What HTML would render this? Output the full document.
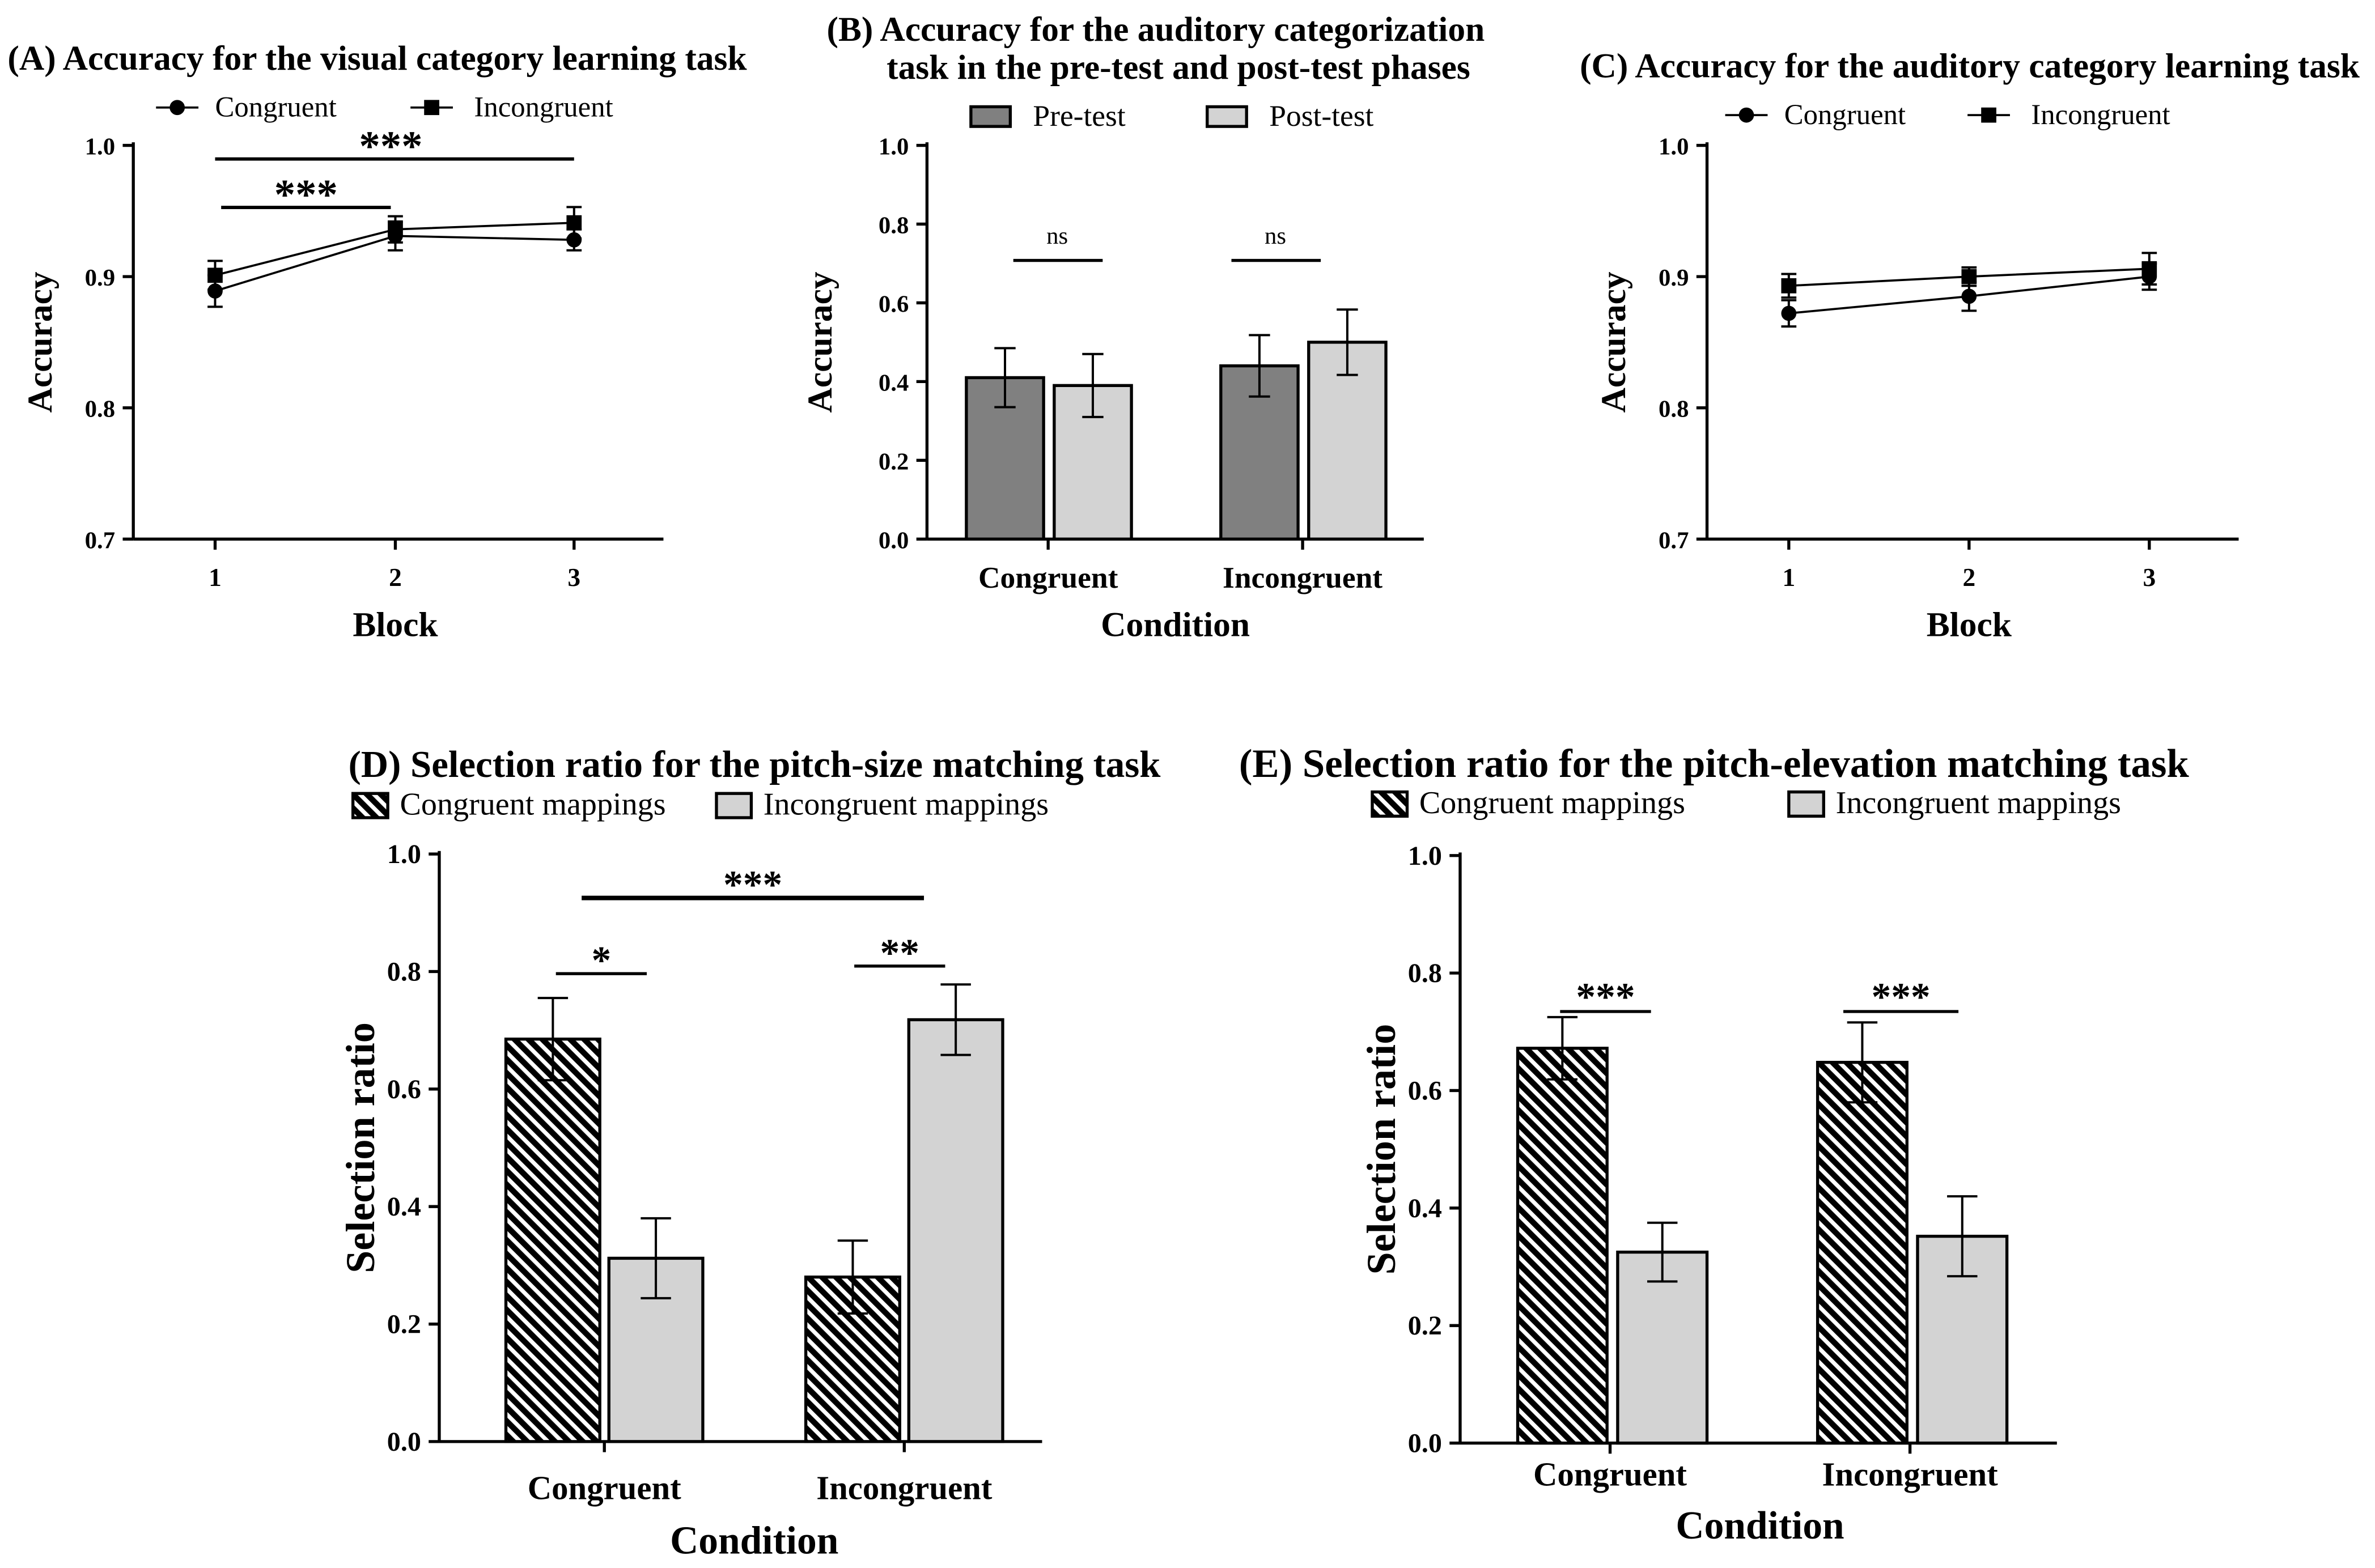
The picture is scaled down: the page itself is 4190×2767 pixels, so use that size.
<!DOCTYPE html>
<html><head><meta charset="utf-8"><style>
html,body{margin:0;padding:0;background:#fff;}
svg{display:block;font-family:"Liberation Serif",serif;}
</style></head><body>
<svg id="fig" width="4190" height="2767" viewBox="0 0 1568 1035.5" xmlns="http://www.w3.org/2000/svg">
<defs>
<pattern id="hatch" patternUnits="userSpaceOnUse" width="6.5" height="6.5" patternTransform="rotate(-45)">
<rect x="0" y="0" width="6.5" height="6.5" fill="#fff"/>
<rect x="0" y="0" width="3.8" height="6.5" fill="#000"/>
</pattern>
</defs>
</svg>
<script>
// ---- Data ----
const blockCats = ["1","2","3"];
const aCong = [0.889, 0.931, 0.928];
const aCongErr = [0.012, 0.011, 0.008];
const aInc = [0.901, 0.936, 0.941];
const aIncErr = [0.011, 0.010, 0.012];
const cCong = [0.872, 0.885, 0.900];
const cCongErr = [0.010, 0.011, 0.010];
const cInc = [0.893, 0.900, 0.906];
const cIncErr = [0.009, 0.007, 0.012];
const accTicks = [0.7, 0.8, 0.9, 1.0];
const condCats = ["Congruent","Incongruent"];
const bPre = [0.41, 0.44];
const bPreErr = [0.075, 0.078];
const bPost = [0.39, 0.50];
const bPostErr = [0.08, 0.083];
const propTicks = [0.0, 0.2, 0.4, 0.6, 0.8, 1.0];
const dCongMap = [0.685, 0.28];
const dCongMapErr = [0.07, 0.062];
const dIncMap = [0.312, 0.718];
const dIncMapErr = [0.068, 0.06];
const eCongMap = [0.672, 0.648];
const eCongMapErr = [0.053, 0.068];
const eIncMap = [0.325, 0.352];
const eIncMapErr = [0.05, 0.068];

const NS = "http://www.w3.org/2000/svg";
const svg = document.getElementById('fig');
function mk(tag, attrs, parent){ const e=document.createElementNS(NS,tag); for(const k in attrs) e.setAttribute(k,attrs[k]); (parent||svg).appendChild(e); return e; }
function txt(s, x, y, size, weight, anchor, name, rot){
  const t = mk('text',{x:x,y:y,'font-size':size,'font-weight':weight,'text-anchor':anchor||'start'});
  if(rot) t.setAttribute('transform',`rotate(-90 ${x} ${y})`);
  t.textContent = s;
  
  
  return t;
}
function line(x1,y1,x2,y2,w,name){
  const l = mk('line',{x1:x1,y1:y1,x2:x2,y2:y2,stroke:'#000','stroke-width':w||1.6});
  
  
  return l;
}
function errbar(x,yv,ye,yc,hw,name){
  line(x, yv(ye[0]), x, yv(ye[1]), 1.5, name);
  line(x-hw, yv(ye[1]), x+hw, yv(ye[1]), 1.5, name+'-cap-top');
  line(x-hw, yv(ye[0]), x+hw, yv(ye[0]), 1.5, name+'-cap-bottom');
}

// ---- Line panel (A, C) ----
function linePanel(p){
  const y = v => p.y0 + (v-0.7)/(0.3)*(p.y1-p.y0);
  const x = i => p.xs[i];
  line(p.ax, p.y1-2, p.ax, p.y0, 2, p.id+'-y-axis');
  line(p.ax, p.y0, p.axEnd, p.y0, 2, p.id+'-x-axis');
  accTicks.forEach(t=>{
    line(p.ax-7, y(t), p.ax, y(t), 2, p.id+'-y-tick');
    txt(t.toFixed(1), p.ax-12, y(t)+6, 16, 'bold', 'end', p.id+'-y-tick-label');
  });
  blockCats.forEach((c,i)=>{
    line(x(i), p.y0, x(i), p.y0+7, 2, p.id+'-x-tick');
    txt(c, x(i), p.y0+31, 17, 'bold', 'middle', p.id+'-x-tick-label');
  });
  txt('Accuracy', p.ax-54, (p.y0+p.y1)/2, 23, 'bold', 'middle', p.id+'-y-axis-title', true);
  txt('Block', p.xs[1], p.y0+64, 23, 'bold', 'middle', p.id+'-x-axis-title');
  [[p.cong,p.congErr,'circle','congruent'],[p.inc,p.incErr,'square','incongruent']].forEach(([vals,errs,shape,nm])=>{
    const pts = vals.map((v,i)=>`${x(i)},${y(v)}`).join(' ');
    const pl = mk('polyline',{points:pts,fill:'none',stroke:'#000','stroke-width':1.4});
    
    
    vals.forEach((v,i)=>{
      errbar(x(i), y, [v-errs[i], v+errs[i]], 0, 5, p.id+'-'+nm+'-error-bar');
      let m;
      if(shape==='circle') m = mk('circle',{cx:x(i),cy:y(v),r:5,fill:'#000'});
      else m = mk('rect',{x:x(i)-5,y:y(v)-5,width:10,height:10,fill:'#000'});
      
      
    });
  });
  const ly = p.legY;
  line(p.leg1-14, ly, p.leg1+14, ly, 1.4, p.id+'-legend-congruent-line');
  const lc = mk('circle',{cx:p.leg1,cy:ly,r:5,fill:'#000'});
  
  
  txt('Congruent', p.leg1+25, ly+6, 19, 'normal', 'start', p.id+'-legend-congruent');
  line(p.leg2-14, ly, p.leg2+14, ly, 1.4, p.id+'-legend-incongruent-line');
  const ls = mk('rect',{x:p.leg2-5,y:ly-5,width:10,height:10,fill:'#000'});
  
  
  txt('Incongruent', p.leg2+28, ly+6, 19, 'normal', 'start', p.id+'-legend-incongruent');
}

linePanel({id:'panel-a', ax:88, axEnd:438, y0:356, y1:96, xs:[142,261,379], cong:aCong, congErr:aCongErr, inc:aInc, incErr:aIncErr, legY:71, leg1:117, leg2:285});
txt('(A)  Accuracy for the visual category learning task', 5, 46, 23, 'bold', 'start', 'panel-a-title');
line(142,105,379,105,2.2,'panel-a-sig-line-1-3');
txt('***', 258, 106, 28, 'bold', 'middle', 'panel-a-sig-label-1-3');
line(146,137,258,137,2.2,'panel-a-sig-line-1-2');
txt('***', 202, 138, 28, 'bold', 'middle', 'panel-a-sig-label-1-2');

linePanel({id:'panel-c', ax:1127, axEnd:1478, y0:356, y1:96, xs:[1181,1300,1419], cong:cCong, congErr:cCongErr, inc:cInc, incErr:cIncErr, legY:76, leg1:1153, leg2:1313});
txt('(C) Accuracy for the auditory category learning task', 1043, 51, 23, 'bold', 'start', 'panel-c-title');

// ---- Bar panels ----
function barPanel(p){
  const y = v => p.y0 - v*(p.y0-p.y1);
  line(p.ax, p.y1-2, p.ax, p.y0, 2, p.id+'-y-axis');
  line(p.ax, p.y0, p.axEnd, p.y0, 2, p.id+'-x-axis');
  propTicks.forEach(t=>{
    line(p.ax-7, y(t), p.ax, y(t), 2, p.id+'-y-tick');
    txt(t.toFixed(1), p.ax-12, y(t)+6, p.tickSize, 'bold', 'end', p.id+'-y-tick-label');
  });
  condCats.forEach((c,g)=>{
    const cx = p.groupX[g];
    line(cx, p.y0, cx, p.y0+7, 2, p.id+'-x-tick');
    txt(c, cx, p.y0+p.catDy, p.catSize, 'bold', 'middle', p.id+'-x-tick-label');
    p.series.forEach((s,k)=>{
      const x0 = cx + p.offsets[k];
      const r = mk('rect',{x:x0, y:y(s.vals[g]), width:p.bw, height:y(0)-y(s.vals[g]), fill:s.fill, stroke:'#000','stroke-width':2});
      
      
      const xc = x0 + p.bw/2;
      errbar(xc, y, [s.vals[g]-s.errs[g], s.vals[g]+s.errs[g]], 0, p.cap, p.id+'-error-bar');
    });
  });
  txt(p.yTitle, p.yTitleX, (p.y0+p.y1)/2, p.yTitleSize, 'bold', 'middle', p.id+'-y-axis-title', true);
  txt('Condition', p.condX, p.condY, p.titleSize, 'bold', 'middle', p.id+'-x-axis-title');
  p.series.forEach((s,k)=>{
    const r = mk('rect',{x:p.legX[k], y:p.legY-p.legH/2, width:p.legW, height:p.legH, fill:s.fill, stroke:'#000','stroke-width':2});
    
    
    txt(s.label, p.legX[k]+p.legW+p.legGap, p.legY+6, p.legSize, 'normal', 'start', p.id+'-legend-'+s.name);
  });
}

barPanel({id:'panel-b', ax:612, axEnd:940, y0:356, y1:96, groupX:[692,860], offsets:[-54,4], bw:51, cap:7, tickSize:16, catSize:20, catDy:32, titleSize:23, yTitleSize:23,
  series:[{name:'pre-test',label:'Pre-test',vals:bPre,errs:bPreErr,fill:'#808080'},{name:'post-test',label:'Post-test',vals:bPost,errs:bPostErr,fill:'#d3d3d3'}],
  yTitle:'Accuracy', yTitleX:549, condX:776, condY:420, legX:[641,797], legY:77, legW:26, legH:13, legGap:15, legSize:20});
txt('(B) Accuracy for the auditory categorization', 763, 27, 23, 'bold', 'middle', 'panel-b-title-line-1');
txt('task in the pre-test and post-test phases', 778, 52, 23, 'bold', 'middle', 'panel-b-title-line-2');
line(669,172,728,172,2,'panel-b-sig-line-congruent');
txt('ns', 698, 161, 16, 'normal', 'middle', 'panel-b-sig-label-congruent');
line(813,172,872,172,2,'panel-b-sig-line-incongruent');
txt('ns', 842, 161, 16, 'normal', 'middle', 'panel-b-sig-label-incongruent');

barPanel({id:'panel-d', ax:290, axEnd:688, y0:952, y1:564, groupX:[399,597], offsets:[-65,3], bw:62, cap:10, tickSize:18, catSize:22, catDy:38, titleSize:26, yTitleSize:27,
  series:[{name:'congruent-mappings',label:'Congruent mappings',vals:dCongMap,errs:dCongMapErr,fill:'url(#hatch)'},{name:'incongruent-mappings',label:'Incongruent mappings',vals:dIncMap,errs:dIncMapErr,fill:'#d3d3d3'}],
  yTitle:'Selection ratio', yTitleX:247, condX:498, condY:1026, legX:[233,473], legY:532, legW:23, legH:16, legGap:8, legSize:21});
txt('(D)  Selection ratio for the pitch-size matching task', 230, 513, 25, 'bold', 'start', 'panel-d-title');
line(367,643,427,643,2,'panel-d-sig-line-congruent');
txt('*', 397, 643, 26, 'bold', 'middle', 'panel-d-sig-label-congruent');
line(564,638,624,638,2,'panel-d-sig-line-incongruent');
txt('**', 594, 638, 26, 'bold', 'middle', 'panel-d-sig-label-incongruent');
line(384,593,610,593,3,'panel-d-sig-line-between');
txt('***', 497, 593, 26, 'bold', 'middle', 'panel-d-sig-label-between');

barPanel({id:'panel-e', ax:964, axEnd:1358, y0:953, y1:565, groupX:[1063,1261], offsets:[-61,5], bw:59, cap:10, tickSize:18, catSize:22, catDy:28, titleSize:26, yTitleSize:27,
  series:[{name:'congruent-mappings',label:'Congruent mappings',vals:eCongMap,errs:eCongMapErr,fill:'url(#hatch)'},{name:'incongruent-mappings',label:'Incongruent mappings',vals:eIncMap,errs:eIncMapErr,fill:'#d3d3d3'}],
  yTitle:'Selection ratio', yTitleX:921, condX:1162, condY:1016, legX:[906,1181], legY:531, legW:23, legH:16, legGap:8, legSize:21});
txt('(E)  Selection ratio for the pitch-elevation matching task', 818, 513, 26.5, 'bold', 'start', 'panel-e-title');
line(1030,668,1090,668,2,'panel-e-sig-line-congruent');
txt('***', 1060, 667, 26, 'bold', 'middle', 'panel-e-sig-label-congruent');
line(1217,668,1293,668,2,'panel-e-sig-line-incongruent');
txt('***', 1255, 667, 26, 'bold', 'middle', 'panel-e-sig-label-incongruent');
</script>
</body></html>
